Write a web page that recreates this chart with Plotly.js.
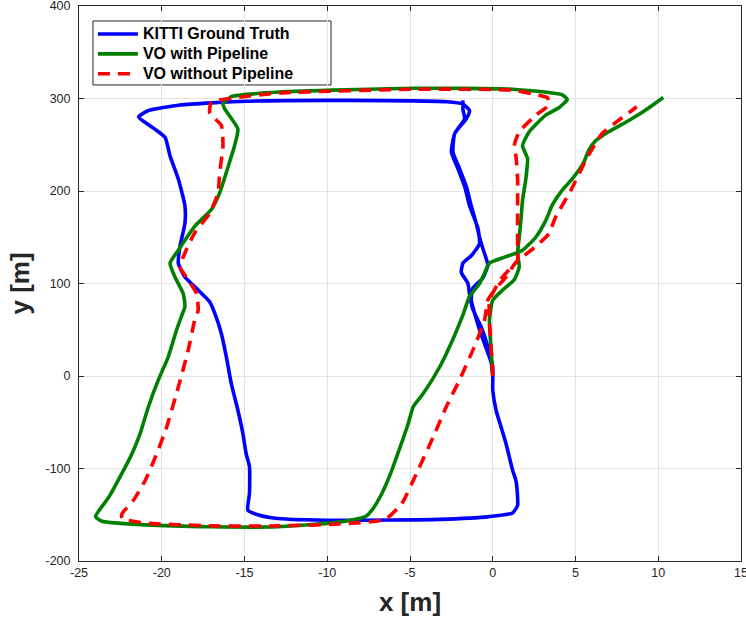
<!DOCTYPE html>
<html>
<head>
<meta charset="utf-8">
<script src="https://cdn.plot.ly/plotly-3.0.1.min.js"></script>
<style>
  html, body { margin: 0; padding: 0; background: #fff; }
  #chart { width: 746px; height: 622px; }
</style>
</head>
<body>
<div id="chart"></div>
<script>
// ---- Data ----
const seriesNames = ["KITTI Ground Truth", "VO with Pipeline", "VO without Pipeline"];

// KITTI ground truth trajectory
const gtX = [0, -0.1, -0.4, -0.8, -1.1, -1.3, -1.2, -0.6, -0.3, -0.6, -0.8, -1.0, -1.3, -1.6, -2.0, -2.4, -2.3, -1.6, -1.4, -1.8,
  -2.8, -8.9, -14.9, -18.9, -20.8, -21.4, -20.5, -19.8, -19.5, -19.0, -18.6, -18.6, -18.9, -19.0, -18.6, -17.8, -17.1, -16.8,
  -16.4, -16.1, -15.8, -15.4, -15.1, -14.9, -14.7, -14.7, -14.8, -14.2, -13.0, -9.3, -3.2, -0.2, 1.2, 1.5, 1.5, 1.4, 1.2, 0.8,
  0.5, 0.2, 0, 0, -0.3, -0.7, -1.2, -1.4, -1.5, -1.9, -1.8, -1.3, -0.8, -0.9, -1.4, -1.7, -2.1, -2.5, -2.3, -1.7, -1.8, -1.8];
const gtY = [0, 15, 30, 50, 68, 82, 95, 106, 120, 138, 150, 165, 184, 205, 224, 242, 262, 278, 287, 294,
  296.5, 298, 297, 293, 287, 280, 268, 258, 238, 213, 184, 165, 140, 122, 107, 93, 80, 68,
  46, 21, -8, -37, -62, -84, -98, -127, -145, -150, -154, -156, -155, -152, -148, -140, -131, -113, -102, -73,
  -55, -37, -15, 10, 32, 53, 72, 88, 100, 112, 122, 130, 143, 160, 184, 205, 224, 242, 262, 278, 288, 298];

// VO with pipeline
const withX = [0, -0.1, -0.2, 0, 0.6, 1.3, 1.6, 1.5, 1.6, 1.7, 1.8, 2.0, 2.1, 1.8, 2.2, 3.2, 4.0, 4.5, 4.2, 1.2,
  -4.8, -12.9, -15.8, -16.3, -16.2, -15.4, -15.6, -16.1, -16.5, -17.0, -18.0, -19.0, -19.5, -19.2, -18.7, -18.6, -18.8,
  -19.1, -19.6, -20.2, -20.8, -21.3, -21.8, -22.4, -23.2, -24.0, -23.6, -21.0, -17.0, -13.0, -9.3, -7.7, -7.3, -6.7,
  -6.1, -5.6, -5.1, -4.8, -4.2, -3.2, -2.4, -1.8, -1.4, -0.8, -0.5, -0.2, 0.8, 1.8, 2.6, 3.2, 3.6, 4.2, 4.8, 5.5, 5.8,
  6.2, 7.0, 8.2, 9.2, 10.3];
const withY = [0, 28, 60, 82, 93, 104, 118, 132, 150, 168, 190, 213, 235, 249, 264, 282, 290, 299, 304, 310,
  311, 307, 302, 294, 289, 267, 249, 220, 198, 180, 162, 136, 122, 107, 89, 75, 65,
  50, 21, -4, -33, -62, -84, -105, -131, -152, -157, -161, -163, -163, -158, -152, -145, -127,
  -102, -77, -51, -33, -19, 10, 40, 66, 86, 100, 111, 122, 129, 136, 150, 168, 185, 201, 213, 231, 244,
  254, 264, 276, 287, 301];

// VO without pipeline
const withoutX = [0, -0.1, -0.2, -0.2, 0.1, 0.5, 1.0, 1.5, 1.5, 1.5, 1.5, 1.4, 1.3, 1.6, 2.6, 3.4, 3.3, 2.9, 1.2,
  -4.8, -12.9, -15.5, -17.0, -17.1, -16.4, -16.3, -16.5, -16.6, -17.1, -18.0, -18.6, -18.9, -18.4, -17.9, -17.8, -18.0,
  -18.4, -19.0, -19.7, -20.3, -21.0, -21.7, -22.4, -22.4, -21.0, -17.0, -13.0, -9.3, -6.5, -5.5, -4.6, -3.6, -2.8,
  -2.0, -1.2, -0.5, -0.3, 0.2, 0.8, 1.4, 2.6, 3.4, 3.8, 4.7, 5.7, 6.6, 7.5, 8.7];
const withoutY = [0, 32, 60, 82, 93, 105, 115, 125, 140, 176, 213, 238, 249, 264, 282, 293, 301, 303, 309,
  310, 306, 301, 296, 284, 271, 249, 220, 198, 176, 155, 133, 118, 104, 89, 71, 61,
  28, -12, -55, -84, -113, -134, -149, -154, -159, -162, -162, -160, -155, -138, -105, -66, -33,
  -4, 28, 60, 82, 95, 107, 123, 140, 154, 172, 200, 236, 262, 275, 291];

// Axis ticks
const xTicks = [-25, -20, -15, -10, -5, 0, 5, 10, 15];
const yTicks = [-200, -100, 0, 100, 200, 300, 400];

// ---- Plot ----
const FONT = 'Arial, Liberation Sans, sans-serif';
const legendLabel = s => '<span style="font-size:16px">' + s + '</span>';
const traces = [
  { x: gtX, y: gtY, name: legendLabel(seriesNames[0]), type: 'scatter', mode: 'lines',
    line: { color: '#0000ff', width: 3.6, shape: 'spline', smoothing: 0.5 } },
  { x: withX, y: withY, name: legendLabel(seriesNames[1]), type: 'scatter', mode: 'lines',
    line: { color: '#008000', width: 3.6, shape: 'spline', smoothing: 0.5 } },
  { x: withoutX, y: withoutY, name: legendLabel(seriesNames[2]), type: 'scatter', mode: 'lines',
    line: { color: '#ff0000', width: 3.6, dash: '12px,8px', shape: 'spline', smoothing: 0.5 } }
];

const axisCommon = {
  showgrid: true, gridcolor: '#e3e3e3', gridwidth: 1,
  zeroline: false,
  showline: true, linecolor: '#262626', linewidth: 1, mirror: 'ticks',
  ticks: 'inside', ticklen: 5, tickwidth: 1, tickcolor: '#262626',
  ticklabeloverflow: 'allow',
  tickfont: { family: FONT, size: 12.5, color: '#262626' }
};

const layout = {
  width: 746, height: 622,
  margin: { l: 79, r: 5, t: 6, b: 61 },
  paper_bgcolor: '#ffffff', plot_bgcolor: '#ffffff',
  showlegend: true,
  legend: {
    x: 0.021, y: 0.9766, xanchor: 'left', yanchor: 'top',
    bgcolor: 'rgba(0,0,0,0)', borderwidth: 0,
    itemwidth: 40,
    font: { family: FONT, size: 13, color: '#000000', weight: 'bold' },
    tracegroupgap: 0
  },
  // legend frame (white box with dark border)
  shapes: [{
    type: 'rect', xref: 'paper', yref: 'paper', layer: 'below',
    x0: 0.0211, x1: 0.3807, y0: 0.8577, y1: 0.973,
    fillcolor: '#ffffff', line: { color: '#262626', width: 1 }
  }],
  xaxis: Object.assign({}, axisCommon, {
    range: [-25, 15], tickvals: xTicks, ticktext: xTicks.map(String),
    title: { text: 'x [m]', font: { family: FONT, size: 26, color: '#262626', weight: 'bold' }, standoff: 13 }
  }),
  yaxis: Object.assign({}, axisCommon, {
    range: [-200, 400], tickvals: yTicks, ticktext: yTicks.map(String),
    ticklabelstandoff: 5,
    title: { text: 'y [m]', font: { family: FONT, size: 26, color: '#262626', weight: 'bold' }, standoff: 8 }
  })
};

Plotly.newPlot('chart', traces, layout, { displayModeBar: false, staticPlot: true });
</script>
</body>
</html>
